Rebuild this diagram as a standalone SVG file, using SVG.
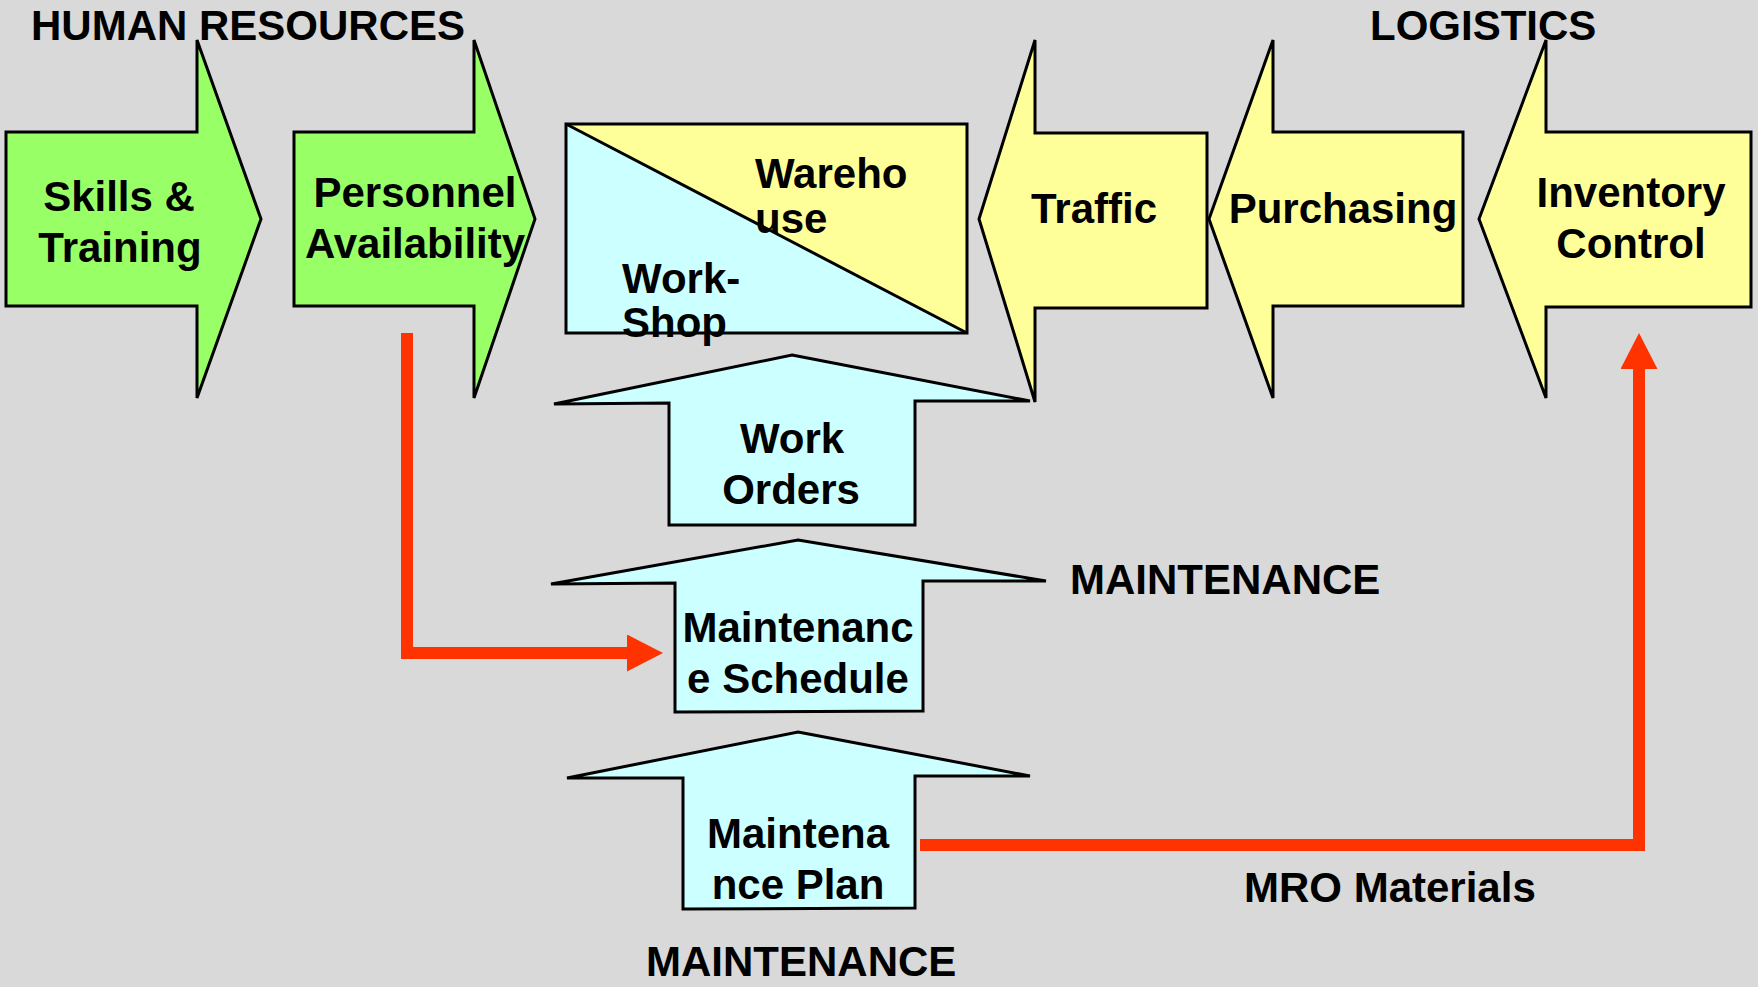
<svg xmlns="http://www.w3.org/2000/svg" width="1758" height="987" viewBox="0 0 1758 987">
  <style>
    .shape { stroke: #000000; stroke-width: 3; stroke-linejoin: miter; }
    .green { fill: #99ff66; }
    .yellow { fill: #ffff99; }
    .cyan { fill: #ccffff; }
    .label { font-family: "Liberation Sans", Arial, Helvetica, sans-serif; font-weight: bold; font-size: 42px; fill: #000000; }
    .mid { text-anchor: middle; }
    .flow { fill: none; stroke: #ff3300; stroke-width: 12; stroke-linejoin: miter; }
  </style>
  <defs>
    <marker id="redHead" markerUnits="userSpaceOnUse" markerWidth="36" markerHeight="37" refX="0" refY="18.5" orient="auto">
      <path d="M0,0 L36,18.5 L0,37 Z" fill="#ff3300"/>
    </marker>
  </defs>

  <rect x="0" y="0" width="1758" height="987" fill="#d9d9d9"/>

  <!-- section headings -->
  <text class="label" x="31" y="40">HUMAN RESOURCES</text>
  <text class="label" x="1370" y="40">LOGISTICS</text>
  <text class="label" x="1070" y="594">MAINTENANCE</text>
  <text class="label" x="646" y="976">MAINTENANCE</text>

  <!-- human resources -->
  <g id="skills-training">
    <polygon class="shape green" points="6,132 197,132 197,40 261,219 197,398 197,306 6,306"/>
    <text class="label mid" x="119" y="211">Skills &amp;</text>
    <text class="label mid" x="120" y="262">Training</text>
  </g>
  <g id="personnel-availability">
    <polygon class="shape green" points="294,132 474,132 474,40 535,219 474,398 474,306 294,306"/>
    <text class="label mid" x="415" y="207">Personnel</text>
    <text class="label mid" x="415" y="258">Availability</text>
  </g>

  <!-- workshop / warehouse split box -->
  <g id="workshop-warehouse">
    <polygon class="yellow" points="566,124 967,124 967,333"/>
    <polygon class="cyan" points="566,124 566,333 967,333"/>
    <rect class="shape" x="566" y="124" width="401" height="209" fill="none"/>
    <line class="shape" x1="566" y1="124" x2="967" y2="333"/>
    <text class="label" x="755" y="188">Wareho</text>
    <text class="label" x="755" y="233">use</text>
    <text class="label" x="622" y="293">Work-</text>
    <text class="label" x="622" y="337">Shop</text>
  </g>

  <!-- logistics -->
  <g id="traffic">
    <polygon class="shape yellow" points="979,219 1035,40 1035,133 1207,133 1207,308 1035,308 1035,402"/>
    <text class="label mid" x="1094" y="223">Traffic</text>
  </g>
  <g id="purchasing">
    <polygon class="shape yellow" points="1209,219 1273,40 1273,132 1463,132 1463,306 1273,306 1273,398"/>
    <text class="label mid" x="1343" y="223">Purchasing</text>
  </g>
  <g id="inventory-control">
    <polygon class="shape yellow" points="1479,219 1546,40 1546,132 1751,132 1751,307 1546,307 1546,398"/>
    <text class="label mid" x="1631" y="207">Inventory</text>
    <text class="label mid" x="1631" y="258">Control</text>
  </g>

  <!-- maintenance chain -->
  <g id="work-orders">
    <polygon class="shape cyan" points="792,355 1030,401 915,401 915,525 669,525 669,403 554,404"/>
    <text class="label mid" x="792" y="453">Work</text>
    <text class="label mid" x="791" y="504">Orders</text>
  </g>
  <g id="maintenance-schedule">
    <polygon class="shape cyan" points="798,540 1046,581 923,581 923,711 675,712 675,583 551,584"/>
    <text class="label mid" x="798" y="642">Maintenanc</text>
    <text class="label mid" x="798" y="693">e Schedule</text>
  </g>
  <g id="maintenance-plan">
    <polygon class="shape cyan" points="798,732 1030,776 915,776 915,908 683,909 683,778 567,778"/>
    <text class="label mid" x="798" y="848">Maintena</text>
    <text class="label mid" x="798" y="899">nce Plan</text>
  </g>

  <!-- flows -->
  <g id="connectors">
    <path class="flow" d="M407,333 V653 H627" marker-end="url(#redHead)"/>
    <path class="flow" d="M920,845 H1639 V369" marker-end="url(#redHead)"/>
    <text class="label" x="1244" y="902">MRO Materials</text>
  </g>
</svg>
